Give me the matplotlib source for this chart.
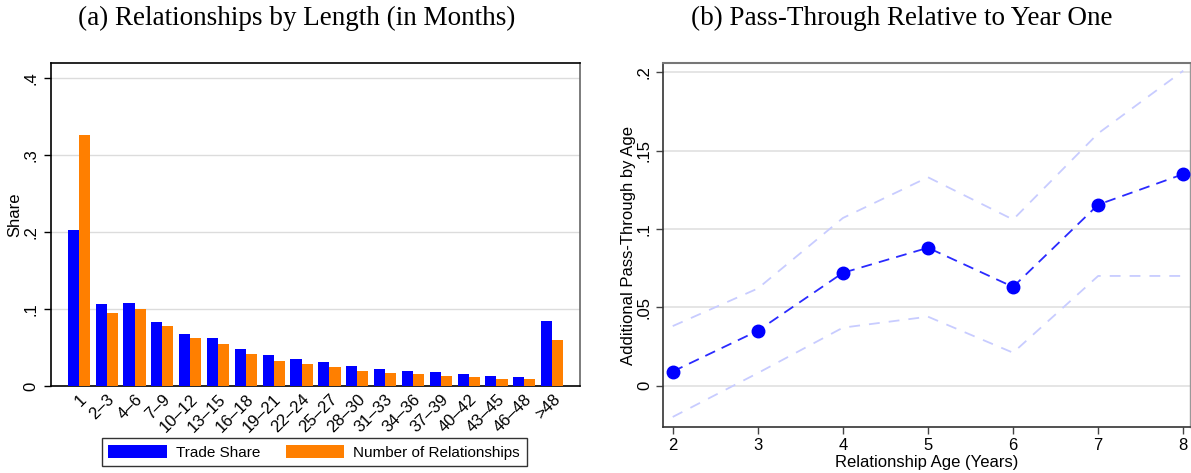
import matplotlib
matplotlib.use("Agg")
import matplotlib.pyplot as plt
import numpy as np

categories = ["1", "2\u20133", "4\u20136", "7\u20139", "10\u201312", "13\u201315", "16\u201318",
              "19\u201321", "22\u201324", "25\u201327", "28\u201330", "31\u201333", "34\u201336",
              "37\u201339", "40\u201342", "43\u201345", "46\u201348", ">48"]
trade_share = [0.203, 0.107, 0.108, 0.083, 0.068, 0.062, 0.048, 0.040, 0.035, 0.031,
               0.026, 0.022, 0.019, 0.0185, 0.015, 0.013, 0.0115, 0.084]
num_relationships = [0.326, 0.095, 0.100, 0.078, 0.063, 0.054, 0.041, 0.033, 0.028, 0.025,
                     0.019, 0.017, 0.015, 0.0135, 0.0115, 0.0095, 0.009, 0.060]

ages = [2, 3, 4, 5, 6, 7, 8]
passthrough = [0.009, 0.035, 0.072, 0.088, 0.063, 0.1155, 0.135]
ci_upper = [0.038, 0.062, 0.107, 0.133, 0.106, 0.161, 0.201]
ci_lower = [-0.020, 0.008, 0.037, 0.044, 0.021, 0.070, 0.070]

sans = ["Liberation Sans", "DejaVu Sans"]
serif = ["Liberation Serif", "DejaVu Serif"]
plt.rcParams['font.family'] = sans

fig = plt.figure(figsize=(11.91, 4.73), dpi=100)

# ---------- Panel (a)
ax1 = fig.add_axes([0.0428, 0.184, 0.4442, 0.683])
x = np.arange(len(categories))
w = 0.4
ax1.bar(x - w / 2, trade_share, width=w, color="#0000ff", label="Trade Share", zorder=3)
ax1.bar(x + w / 2, num_relationships, width=w, color="#ff7f00", label="Number of Relationships", zorder=3)
ax1.set_xlim(-1, len(categories))
ax1.set_ylim(0, 0.42)
yt = [0, 0.1, 0.2, 0.3, 0.4]
ax1.set_yticks(yt)
ax1.set_yticklabels(["0", ".1", ".2", ".3", ".4"], rotation=90, va="center", fontsize=12)
ax1.set_xticks(x)
ax1.set_xticklabels(categories, rotation=45, ha="right", rotation_mode="anchor", fontsize=12)
ax1.tick_params(axis="x", length=0, pad=4)
ax1.tick_params(axis="y", length=5, width=1, pad=4)
for v in yt[1:]:
    ax1.axhline(v, color="#dcdcdc", lw=1, zorder=1)
ax1.set_ylabel("Share", fontsize=12, labelpad=1, y=0.53)
for s in ["left", "bottom", "top"]:
    ax1.spines[s].set_color("black")
    ax1.spines[s].set_linewidth(1.2)
ax1.spines["right"].set_color("#666666")
ax1.spines["right"].set_linewidth(1.2)
leg = ax1.legend(loc="upper center", bbox_to_anchor=(0.2638, 0.074), bbox_transform=fig.transFigure,
                 ncol=2, fontsize=11, borderaxespad=0,
                 frameon=True, fancybox=False, edgecolor="black", handlelength=3.8,
                 handleheight=0.92, columnspacing=1.7, borderpad=0.45, handletextpad=0.6)
leg.get_frame().set_linewidth(1.0)

# ---------- Panel (b)
ax2 = fig.add_axes([0.5567, 0.098, 0.4425, 0.768])
ax2.plot(ages, ci_upper, ls=(0, (6, 5)), color="#c8ccff", lw=1.3, zorder=2)
ax2.plot(ages, ci_lower, ls=(0, (6, 5)), color="#c8ccff", lw=1.3, zorder=2)
ax2.plot(ages, passthrough, ls=(0, (6, 4)), color="#2a2aff", lw=1.3, marker="o",
         markersize=9, markerfacecolor="#0000ff", markeredgecolor="#0000ff", zorder=3)
ax2.set_xlim(1.886, 8.08)
ax2.set_ylim(-0.0262, 0.2057)
yt2 = [0, 0.05, 0.1, 0.15, 0.2]
ax2.set_yticks(yt2)
ax2.set_yticklabels(["0", ".05", ".1", ".15", ".2"], rotation=90, va="center", fontsize=12)
ax2.set_xticks(ages)
ax2.set_xticklabels([str(a) for a in ages], fontsize=12)
ax2.tick_params(axis="both", length=5, width=1, pad=3, color="#444444")
for v in yt2:
    ax2.axhline(v, color="#e0e0e0", lw=1.2, zorder=1)
ax2.set_xlabel("Relationship Age (Years)", fontsize=12, labelpad=1.5)
ax2.set_ylabel("Additional Pass-Through by Age", fontsize=12, labelpad=1)
for s in ["left", "bottom"]:
    ax2.spines[s].set_color("#333333")
    ax2.spines[s].set_linewidth(1.2)
ax2.spines["top"].set_color("#777777")
ax2.spines["top"].set_linewidth(1.5)
ax2.spines["right"].set_color("#999999")
ax2.spines["right"].set_linewidth(1.0)

# ---------- Titles
fig.text(0.249, 0.962, "(a) Relationships by Length (in Months)", ha="center", va="center",
         fontsize=19.5, family=serif)
fig.text(0.757, 0.962, "(b) Pass-Through Relative to Year One", ha="center", va="center",
         fontsize=19.5, family=serif)

fig.savefig("out.png", dpi=100)
